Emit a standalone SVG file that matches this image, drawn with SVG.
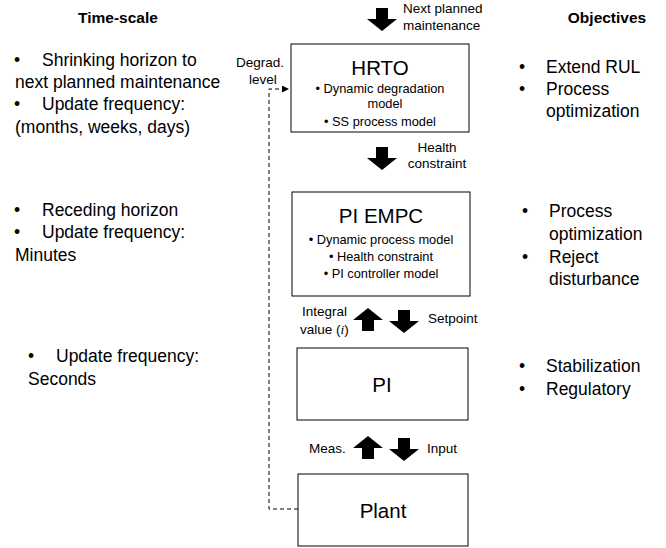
<svg xmlns="http://www.w3.org/2000/svg" width="666" height="548" viewBox="0 0 666 548">
<style>
text{font-family:"Liberation Sans",Arial,sans-serif;fill:#000}
.big{font-size:17.5px}
.hd{font-size:15.5px;font-weight:bold}
.sm{font-size:12.8px}
.lb{font-size:13.5px}
.title{font-size:20.5px}
.box{fill:#fff;stroke:#000;stroke-width:1}
.dash{fill:none;stroke:#000;stroke-width:1;stroke-dasharray:4,3}
</style>
<defs>
<path id="dn" d="M-6,0 H6 V11 H15 L0,23 L-15,11 H-6 Z" fill="#000"/>
<path id="up" d="M-6,23 H6 V12 H15 L0,0 L-15,12 H-6 Z" fill="#000"/>
<marker id="ah" viewBox="0 0 10 10" refX="10" refY="5" markerWidth="7" markerHeight="7" orient="auto" markerUnits="userSpaceOnUse">
<path d="M0,0 L10,5 L0,10 Z" fill="#000"/>
</marker>
</defs>
<rect width="666" height="548" fill="#fff"/>

<g id="timescale">
<text class="hd" x="118" y="23" text-anchor="middle">Time-scale</text>
<text class="big" x="14" y="66">•</text><text class="big" x="42" y="66">Shrinking horizon to</text>
<text class="big" x="15" y="88">next planned maintenance</text>
<text class="big" x="14" y="110">•</text><text class="big" x="42" y="110">Update frequency:</text>
<text class="big" x="15" y="133">(months, weeks, days)</text>
<text class="big" x="14" y="216">•</text><text class="big" x="42" y="216">Receding horizon</text>
<text class="big" x="14" y="238">•</text><text class="big" x="42" y="238">Update frequency:</text>
<text class="big" x="15" y="261">Minutes</text>
<text class="big" x="28" y="362">•</text><text class="big" x="56" y="362">Update frequency:</text>
<text class="big" x="28" y="385">Seconds</text>
</g>

<g id="objectives">
<text class="hd" x="607" y="23" text-anchor="middle">Objectives</text>
<text class="big" x="519" y="73">•</text><text class="big" x="546" y="73">Extend RUL</text>
<text class="big" x="519" y="95">•</text><text class="big" x="546" y="95">Process</text>
<text class="big" x="546" y="117">optimization</text>
<text class="big" x="522" y="217">•</text><text class="big" x="549" y="217">Process</text>
<text class="big" x="549" y="240">optimization</text>
<text class="big" x="522" y="263">•</text><text class="big" x="549" y="263">Reject</text>
<text class="big" x="549" y="285">disturbance</text>
<text class="big" x="519" y="372">•</text><text class="big" x="546" y="372">Stabilization</text>
<text class="big" x="519" y="395">•</text><text class="big" x="546" y="395">Regulatory</text>
</g>

<g id="hrto">
<rect class="box" x="291" y="44" width="178" height="88"/>
<text class="title" x="380" y="75" text-anchor="middle">HRTO</text>
<text class="sm" x="380" y="93" text-anchor="middle">•   Dynamic degradation</text>
<text class="sm" x="385" y="108" text-anchor="middle">model</text>
<text class="sm" x="380" y="126" text-anchor="middle">•   SS process model</text>
</g>

<g id="piempc">
<rect class="box" x="292" y="192" width="178" height="104"/>
<text class="title" x="381" y="223" text-anchor="middle">PI EMPC</text>
<text class="sm" x="381" y="244" text-anchor="middle">•   Dynamic process model</text>
<text class="sm" x="381" y="261" text-anchor="middle">•   Health constraint</text>
<text class="sm" x="381" y="278" text-anchor="middle">•   PI controller model</text>
</g>

<g id="pi">
<rect class="box" x="297" y="348" width="171" height="72"/>
<text class="title" x="382" y="392" text-anchor="middle">PI</text>
</g>

<g id="plant">
<rect class="box" x="298" y="474" width="170" height="72"/>
<text class="title" x="383" y="518" text-anchor="middle">Plant</text>
</g>

<g id="connectors">
<use href="#dn" x="382" y="8"/>
<text class="lb" x="403" y="13">Next planned</text>
<text class="lb" x="403" y="30">maintenance</text>
<use href="#dn" x="382" y="147"/>
<text class="lb" x="437" y="152" text-anchor="middle">Health</text>
<text class="lb" x="437" y="168" text-anchor="middle">constraint</text>
<use href="#up" x="368" y="308"/>
<use href="#dn" x="404" y="310"/>
<text class="lb" x="302" y="316">Integral</text>
<text class="lb" x="300" y="334">value (<tspan font-family="Liberation Serif" font-style="italic">i</tspan>)</text>
<text class="lb" x="428" y="323">Setpoint</text>
<use href="#up" x="368" y="436"/>
<use href="#dn" x="404" y="438"/>
<text class="lb" x="309" y="453">Meas.</text>
<text class="lb" x="427" y="453">Input</text>
<path class="dash" d="M298,509 H269 V89 H289" marker-end="url(#ah)"/>
<text class="lb" x="260" y="67" text-anchor="middle">Degrad.</text>
<text class="lb" x="263" y="84" text-anchor="middle">level</text>
</g>
</svg>
